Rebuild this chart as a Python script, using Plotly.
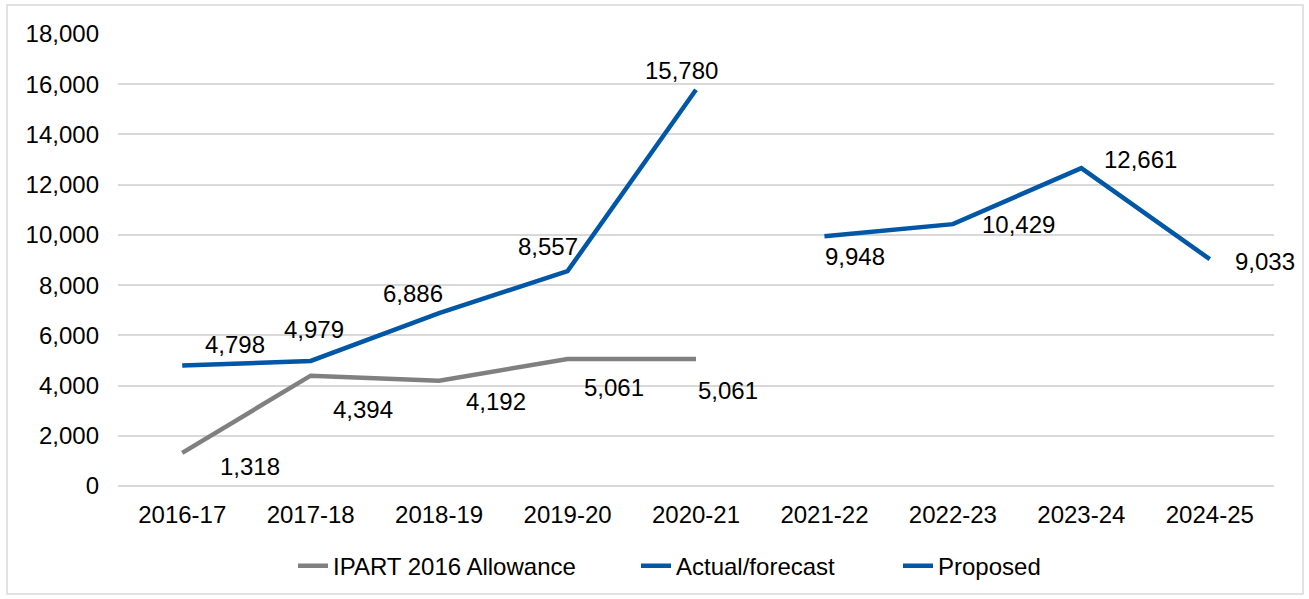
import plotly.graph_objects as go

# Financial years on the category axis
years = ["2016-17", "2017-18", "2018-19", "2019-20", "2020-21",
         "2021-22", "2022-23", "2023-24", "2024-25"]

# Series values ($'000)
allowance = [1318, 4394, 4192, 5061, 5061, None, None, None, None]
actual = [4798, 4979, 6886, 8557, 15780, None, None, None, None]
proposed = [None, None, None, None, None, 9948, 10429, 12661, 9033]

GREY = "#808080"
BLUE = "#0057A6"
FONT = "Liberation Sans, Arial, sans-serif"
FS = 24

# pixel offsets (dx, dy) of each value label relative to its point
allowance_off = [(68, 14), (52, 34), (57, 21), (46, 29), (32, 32)]
actual_off = [(53, -21), (3, -31), (-26, -20), (-20, -25), (-15, -19)]
proposed_off = [(31, 20), (66, 0), (59, -9), (55, 2)]

fig = go.Figure()
fig.add_trace(go.Scatter(x=years, y=allowance, name="IPART 2016 Allowance",
                         mode="lines", line=dict(color=GREY, width=4.5),
                         legend="legend"))
fig.add_trace(go.Scatter(x=years, y=actual, name="Actual/forecast",
                         mode="lines", line=dict(color=BLUE, width=4.5),
                         legend="legend2"))
fig.add_trace(go.Scatter(x=years, y=proposed, name="Proposed",
                         mode="lines", line=dict(color=BLUE, width=4.5),
                         legend="legend3"))

annotations = []


def add_labels(values, offsets):
    pts = [(x, v) for x, v in zip(years, values) if v is not None]
    for (x, v), (dx, dy) in zip(pts, offsets):
        annotations.append(dict(
            x=x, y=v, xref="x", yref="y", text=f"{v:,}", showarrow=False,
            xshift=dx, yshift=-dy, font=dict(family=FONT, size=FS, color="#000000")))


add_labels(allowance, allowance_off)
add_labels(actual, actual_off)
add_labels(proposed, proposed_off)


def legend_at(px):
    return dict(orientation="h", xref="container", x=px / 1309, xanchor="left",
                yref="container", y=0.055, yanchor="middle",
                font=dict(size=FS), bgcolor="rgba(0,0,0,0)")


fig.update_layout(
    width=1309, height=599,
    margin=dict(l=118, r=35, t=34, b=113),
    paper_bgcolor="white", plot_bgcolor="white",
    font=dict(family=FONT, size=FS, color="#000000"),
    showlegend=True,
    legend=legend_at(293),
    legend2=legend_at(636),
    legend3=legend_at(898),
    annotations=annotations,
    shapes=[dict(type="rect", xref="paper", yref="paper",
                 x0=-111 / 1156, x1=1 + 29 / 1156, y0=-108 / 452, y1=1 + 29 / 452,
                 line=dict(color="#D9D9D9", width=1.5), fillcolor="rgba(0,0,0,0)",
                 layer="below")],
)
fig.update_xaxes(type="category", range=[-0.5, 8.5], showgrid=False,
                 showline=False, zeroline=False, ticks="",
                 ticklabelstandoff=12, tickfont=dict(size=FS))
fig.update_yaxes(range=[0, 18000], dtick=2000, tickformat=",d",
                 showgrid=True, gridcolor="#D9D9D9", gridwidth=1.5,
                 zeroline=True, zerolinecolor="#D9D9D9", zerolinewidth=1.5,
                 showline=False, ticks="", ticklabelstandoff=18,
                 tickfont=dict(size=FS))

fig.write_html("out.html")
